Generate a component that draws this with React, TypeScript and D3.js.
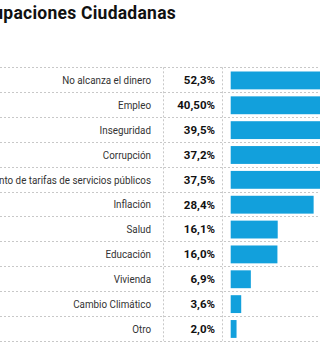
import React from "react";
import * as d3 from "d3";

const categories = [
  "No alcanza el dinero",
  "Empleo",
  "Inseguridad",
  "Corrupción",
  "Aumento de tarifas de servicios públicos",
  "Inflación",
  "Salud",
  "Educación",
  "Vivienda",
  "Cambio Climático",
  "Otro",
];
const values = [52.3, 40.5, 39.5, 37.2, 37.5, 28.4, 16.1, 16.0, 6.9, 3.6, 2.0];
const valueLabels = [
  "52,3%", "40,50%", "39,5%", "37,2%", "37,5%", "28,4%",
  "16,1%", "16,0%", "6,9%", "3,6%", "2,0%",
];
const title = "Preocupaciones Ciudadanas";

const W = 320;
const H = 355;
const top = 67.3;
const bottom = 340.7;
const labelX = 151;
const valueX = 215;
const col1 = 163.3;
const col2 = 221.7;
const barX0 = 230.7;
const font = "Roboto, 'Noto Sans', sans-serif";
const grid = "#c8c8c8";
const narrow = 0.855;

export default function App() {
  const y = d3.scaleBand<number>().domain(d3.range(categories.length)).range([top, bottom]);
  const x = d3.scaleLinear().domain([0, 10]).range([barX0, barX0 + 29.2]);
  const bw = y.bandwidth();

  return (
    <div style={{ position: "absolute", left: 0, top: 0, width: W, height: H, background: "#fff" }}>
      <svg width={W} height={H} style={{ display: "block" }}>
        <text
          x={176}
          y={18.5}
          textAnchor="end"
          fontFamily={font}
          fontWeight={700}
          fontSize={17.5}
          letterSpacing={0.25}
          fill="#111"
        >
          {title}
        </text>
        {values.map((v, i) => (
          <rect
            key={"b" + i}
            x={x(0)}
            y={(y(i) as number) + 4.2}
            width={x(v) - x(0)}
            height={bw - 7}
            fill="#12a0dc"
          />
        ))}
        {d3.range(categories.length + 1).map((i) => {
          const yy = Math.round(top + i * bw) + 0.5;
          return (
            <line key={"h" + i} x1={0} x2={W} y1={yy} y2={yy} stroke={grid} strokeWidth={1} strokeDasharray="2,2" />
          );
        })}
        {[col1, col2].map((cx, i) => (
          <line
            key={"v" + i}
            x1={Math.round(cx) + 0.5}
            x2={Math.round(cx) + 0.5}
            y1={top}
            y2={bottom}
            stroke={grid}
            strokeWidth={1}
            strokeDasharray="2,2"
          />
        ))}
        <g transform={`scale(${narrow},1)`}>
          {categories.map((c, i) => (
            <text
              key={"c" + i}
              x={labelX / narrow}
              y={(y(i) as number) + bw / 2 + 4.5}
              textAnchor="end"
              fontFamily={font}
              fontSize={11.5}
              fill="#333"
            >
              {c}
            </text>
          ))}
        </g>
        {valueLabels.map((t, i) => (
          <text
            key={"t" + i}
            x={valueX}
            y={(y(i) as number) + bw / 2 + 4.5}
            textAnchor="end"
            fontFamily={font}
            fontWeight={700}
            fontSize={11.5}
            fill="#111"
          >
            {t}
          </text>
        ))}
      </svg>
    </div>
  );
}
